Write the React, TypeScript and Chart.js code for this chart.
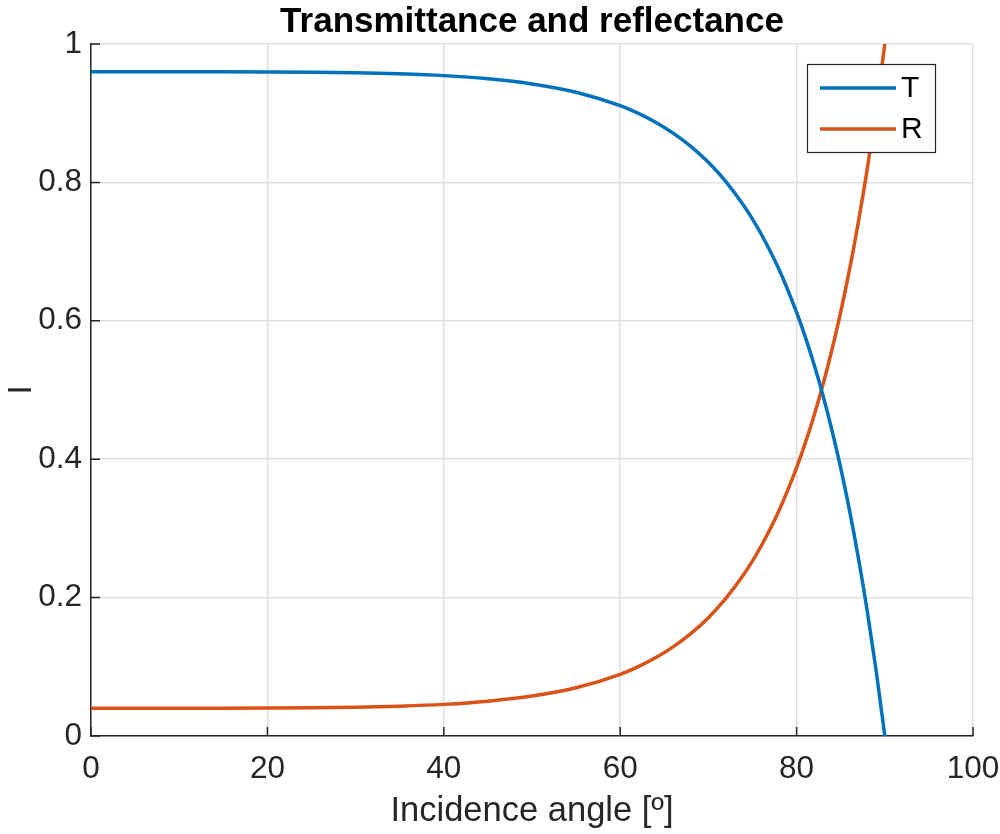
import React, { useEffect, useRef } from 'react';
import { Chart, registerables } from 'chart.js';

Chart.register(...registerables);

// Incidence angle in degrees
const angles = [0, 5, 10, 15, 20, 25, 30, 35, 40, 45, 50, 55, 60, 62, 64, 66, 68, 70, 72, 74, 75, 76, 78, 80, 81, 82, 83, 84, 85, 86, 87, 88, 89, 90];

// Reflectance R at each angle
const reflectance = [0.04, 0.04, 0.04, 0.0401, 0.0403, 0.0407, 0.0415, 0.0431, 0.0457, 0.0503, 0.0577, 0.0697, 0.0892, 0.1, 0.113, 0.1288, 0.1479, 0.171, 0.1992, 0.2333, 0.253, 0.2749, 0.3256, 0.388, 0.4239, 0.4639, 0.5083, 0.5578, 0.6127, 0.6739, 0.7425, 0.8186, 0.904, 1.0];

// Transmittance T at each angle
const transmittance = [0.96, 0.96, 0.96, 0.9599, 0.9597, 0.9593, 0.9585, 0.9569, 0.9543, 0.9497, 0.9423, 0.9303, 0.9108, 0.9, 0.887, 0.8712, 0.8521, 0.829, 0.8008, 0.7667, 0.747, 0.7251, 0.6744, 0.612, 0.5761, 0.5361, 0.4917, 0.4422, 0.3873, 0.3261, 0.2575, 0.1814, 0.096, 0.0];

const xTickValues = [0, 20, 40, 60, 80, 100];
const yTickValues = [0, 0.2, 0.4, 0.6, 0.8, 1];

const seriesNames = ['T', 'R'];
const seriesColors = ['#0072BD', '#D95319'];
const chartTitle = 'Transmittance and reflectance';

const FONT = '"Liberation Sans", Arial, Helvetica, sans-serif';
const INK = '#262626';
const GRID = '#dfdfdf';

// Bold title centred over the plot area
const axesTitle = {
  id: 'axesTitle',
  afterDraw(chart: any) {
    const { ctx, chartArea } = chart;
    ctx.save();
    ctx.font = `bold 35px ${FONT}`;
    ctx.fillStyle = '#000000';
    ctx.textAlign = 'center';
    ctx.textBaseline = 'middle';
    ctx.fillText(chartTitle, (chartArea.left + chartArea.right) / 2, 22);
    ctx.restore();
  },
};

// Tick marks pointing into the plot area
const inwardTicks = {
  id: 'inwardTicks',
  afterDraw(chart: any) {
    const { ctx, chartArea, scales } = chart;
    const len = 9;
    ctx.save();
    ctx.strokeStyle = INK;
    ctx.lineWidth = 1.5;
    ctx.beginPath();
    scales.x.ticks.forEach((t: any) => {
      const px = scales.x.getPixelForValue(t.value);
      ctx.moveTo(px, chartArea.bottom);
      ctx.lineTo(px, chartArea.bottom - len);
    });
    scales.y.ticks.forEach((t: any) => {
      const py = scales.y.getPixelForValue(t.value);
      ctx.moveTo(chartArea.left, py);
      ctx.lineTo(chartArea.left + len, py);
    });
    ctx.stroke();
    ctx.restore();
  },
};

// Boxed legend in the upper right corner of the axes
const boxedLegend = {
  id: 'boxedLegend',
  afterDraw(chart: any) {
    const { ctx, chartArea } = chart;
    const boxW = 129;
    const boxH = 89;
    const x0 = chartArea.right - 37 - boxW;
    const y0 = chartArea.top + 20;
    ctx.save();
    ctx.fillStyle = '#ffffff';
    ctx.fillRect(x0, y0, boxW, boxH);
    ctx.strokeStyle = INK;
    ctx.lineWidth = 1.2;
    ctx.strokeRect(x0 + 0.5, y0 + 0.5, boxW - 1, boxH - 1);
    ctx.font = `30px ${FONT}`;
    ctx.textBaseline = 'middle';
    ctx.textAlign = 'left';
    chart.data.datasets.forEach((ds: any, i: number) => {
      const cy = y0 + 24 + i * 41;
      ctx.strokeStyle = ds.borderColor;
      ctx.lineWidth = 3.5;
      ctx.beginPath();
      ctx.moveTo(x0 + 13, cy);
      ctx.lineTo(x0 + 89, cy);
      ctx.stroke();
      ctx.fillStyle = '#000000';
      ctx.fillText(ds.label, x0 + 94, cy + 1);
    });
    ctx.restore();
  },
};

export default function App() {
  const canvasRef = useRef<HTMLCanvasElement | null>(null);

  useEffect(() => {
    const canvas = canvasRef.current;
    if (!canvas) return;
    const series = [transmittance, reflectance];
    const chart = new Chart(canvas, {
      type: 'line',
      data: {
        datasets: series.map((vals, i) => ({
          label: seriesNames[i],
          data: angles.map((a, j) => ({ x: a, y: vals[j] })),
          borderColor: seriesColors[i],
          backgroundColor: seriesColors[i],
          borderWidth: 3.5,
          pointRadius: 0,
          cubicInterpolationMode: 'monotone' as const,
          fill: false,
        })),
      },
      options: {
        animation: false,
        responsive: false,
        devicePixelRatio: 1,
        layout: { padding: { left: 0, right: 27, top: 44, bottom: 0 } },
        plugins: {
          legend: { display: false },
          tooltip: { enabled: false },
          title: { display: false },
        },
        scales: {
          x: {
            type: 'linear',
            min: 0,
            max: 100,
            afterBuildTicks: (scale: any) => {
              scale.ticks = xTickValues.map((v) => ({ value: v }));
            },
            afterFit: (scale: any) => {
              scale.height = 98;
              scale.paddingLeft = 0;
              scale.paddingRight = 0;
            },
            ticks: {
              color: INK,
              font: { family: FONT, size: 31.5 },
              padding: 14,
              maxRotation: 0,
            },
            grid: { color: GRID, lineWidth: 1.5, drawTicks: false },
            border: { display: true, color: INK, width: 1.5 },
            title: {
              display: true,
              text: 'Incidence angle [º]',
              color: INK,
              font: { family: FONT, size: 34.5 },
              padding: { top: 4, bottom: 2.3 },
            },
          },
          y: {
            type: 'linear',
            min: 0,
            max: 1,
            afterBuildTicks: (scale: any) => {
              scale.ticks = yTickValues.map((v) => ({ value: v }));
            },
            afterFit: (scale: any) => {
              scale.width = 91;
              scale.paddingTop = 0;
              scale.paddingBottom = 0;
            },
            ticks: {
              color: INK,
              font: { family: FONT, size: 31.5 },
              padding: 9,
              callback: (v: any) => String(Number(Number(v).toFixed(1))),
            },
            grid: { color: GRID, lineWidth: 1.5, drawTicks: false },
            border: { display: true, color: INK, width: 1.5 },
            title: {
              display: true,
              text: 'I',
              color: INK,
              font: { family: FONT, size: 33 },
              padding: { top: 2, bottom: 0 },
            },
          },
        },
      },
      plugins: [inwardTicks, boxedLegend, axesTitle],
    });
    return () => chart.destroy();
  }, []);

  return (
    <div style={{ position: 'absolute', left: 0, top: 0, width: 1000, height: 834, background: '#ffffff' }}>
      <canvas ref={canvasRef} width={1000} height={834} style={{ display: 'block', width: 1000, height: 834 }} />
    </div>
  );
}
